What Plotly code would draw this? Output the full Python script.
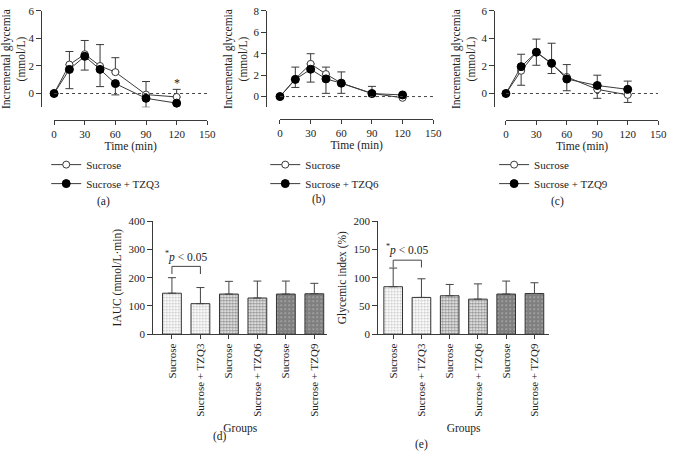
import plotly.graph_objects as go

# Time points (min)
time = [0, 15, 30, 45, 60, 90, 120]

# Panel (a): Sucrose vs Sucrose + TZQ3
a_suc = [0, 2.1, 2.85, 2.0, 1.55, -0.08, -0.25]
a_suc_err = [0, 0.95, 1.0, 1.55, 1.05, 0.95, 0.55]      # drawn upward
a_tzq = [0, 1.75, 2.7, 1.75, 0.72, -0.35, -0.7]
a_tzq_err = [0, 1.4, 1.0, 1.25, 0.82, 0.65, 0.6]        # drawn downward

# Panel (b): Sucrose vs Sucrose + TZQ6
b_suc = [0, 1.65, 3.05, 2.1, 1.25, 0.3, -0.12]
b_suc_err = [0, 1.1, 0.95, 0.65, 1.05, 0.65, 0.1]
b_tzq = [0, 1.6, 2.55, 1.65, 1.25, 0.28, 0.15]
b_tzq_err = [0, 0.75, 1.2, 1.35, 0.95, 0.23, 0.1]

# Panel (c): Sucrose vs Sucrose + TZQ9
c_suc = [0, 1.65, 3.0, 2.15, 1.2, 0.3, -0.1]
c_suc_err = [0, 1.05, 0.95, 0.7, 1.0, 0.65, 0.55]      # drawn downward
c_tzq = [0, 1.95, 3.0, 2.2, 1.05, 0.58, 0.3]
c_tzq_err = [0, 0.9, 0.95, 1.45, 1.05, 0.75, 0.6]      # drawn upward

# Panels (d) and (e): bar charts
groups = ["Sucrose", "Sucrose + TZQ3", "Sucrose", "Sucrose + TZQ6", "Sucrose", "Sucrose + TZQ9"]
iauc = [145, 108, 142, 128, 142, 143]
iauc_err = [55, 57, 45, 60, 46, 37]
gi = [84, 65, 68, 62, 71, 72]
gi_err = [33, 33, 20, 27, 23, 19]

W, H = 676, 457
def px(x):
    return x / W
def py(y):
    return 1 - y / H

FONT = "Liberation Serif, Times New Roman, serif"
AX = "#3a3a3a"
zeros = [0] * len(time)

fig = go.Figure()

def add_pair(suc, suc_err, suc_up, tzq, tzq_err, label, xa, ya, leg):
    up_s = suc_err if suc_up else zeros
    dn_s = zeros if suc_up else suc_err
    up_t = zeros if suc_up else tzq_err
    dn_t = tzq_err if suc_up else zeros
    fig.add_trace(go.Scatter(
        x=time, y=suc, name="Sucrose", mode="lines+markers",
        xaxis=xa, yaxis=ya, legend=leg, cliponaxis=False,
        line=dict(color=AX, width=1),
        marker=dict(symbol="circle", size=7, color="white", line=dict(color=AX, width=1)),
        error_y=dict(type="data", symmetric=False, array=up_s, arrayminus=dn_s,
                     color=AX, thickness=1, width=4)))
    fig.add_trace(go.Scatter(
        x=time, y=tzq, name=label, mode="lines+markers",
        xaxis=xa, yaxis=ya, legend=leg, cliponaxis=False,
        line=dict(color=AX, width=1),
        marker=dict(symbol="circle", size=8, color="black", line=dict(color="black", width=1)),
        error_y=dict(type="data", symmetric=False, array=up_t, arrayminus=dn_t,
                     color=AX, thickness=1, width=4)))

add_pair(a_suc, a_suc_err, True, a_tzq, a_tzq_err, "Sucrose + TZQ3", "x", "y", "legend")
add_pair(b_suc, b_suc_err, True, b_tzq, b_tzq_err, "Sucrose + TZQ6", "x2", "y2", "legend2")
add_pair(c_suc, c_suc_err, False, c_tzq, c_tzq_err, "Sucrose + TZQ9", "x3", "y3", "legend3")

bar_pattern = dict(shape=".",
                   fgcolor=["#888888", "#888888", "#222222", "#222222", "#000000", "#000000"],
                   bgcolor="white", size=[3, 3, 3, 3, 4, 4],
                   solidity=[0.4, 0.4, 0.6, 0.6, 0.85, 0.85])
xs = list(range(len(groups)))
for vals, errs, xa, ya in [(iauc, iauc_err, "x4", "y4"), (gi, gi_err, "x5", "y5")]:
    fig.add_trace(go.Bar(
        x=xs, y=vals, xaxis=xa, yaxis=ya, width=0.66, showlegend=False,
        marker=dict(color="white", line=dict(color="#333333", width=1), pattern=bar_pattern),
        error_y=dict(type="data", symmetric=False, array=errs, arrayminus=[0] * 6,
                     color="#444444", thickness=1, width=4)))

tickfont = dict(family=FONT, size=11, color="#222")
titlefont = dict(family=FONT, size=11.5, color="#222")

def line_axes(xdom, ypos_x, xline_y, yrange, yticks):
    xa = dict(domain=[px(xdom[0]), px(xdom[1])], range=[0, 150], anchor="free",
              position=py(xline_y), tickvals=[0, 30, 60, 90, 120, 150],
              showline=True, linecolor=AX, linewidth=1, ticks="outside", ticklen=4,
              tickcolor=AX, showgrid=False, zeroline=False, tickfont=tickfont,
              title=dict(text="Time (min)", font=titlefont, standoff=2))
    ya = dict(domain=[py(104), py(5)], range=yrange, anchor="free", position=px(ypos_x),
              tickvals=yticks, showline=True, linecolor=AX, linewidth=1, ticks="outside",
              ticklen=5, tickcolor=AX, showgrid=False, zeroline=False, tickfont=tickfont,
              title=dict(text="Incremental glycemia<br>(mmol/L)", font=titlefont, standoff=2))
    return xa, ya

xa1, ya1 = line_axes((52, 208), 39, 117, [-1, 6], [0, 2, 4, 6])
xa2, ya2 = line_axes((282, 438), 268, 116, [-1, 8], [0, 2, 4, 6, 8])
xa3, ya3 = line_axes((512, 667), 500, 117, [-1, 6], [0, 2, 4, 6])

def bar_axes(xdom, xrange, yrange, yticks, ytitle, n):
    xa = dict(domain=[px(xdom[0]), px(xdom[1])], range=xrange, anchor="y%d" % n,
              tickvals=xs, ticktext=groups, tickangle=-90, showline=True, linecolor=AX,
              linewidth=1, ticks="outside", ticklen=4, tickcolor=AX, showgrid=False,
              zeroline=False, tickfont=tickfont,
              title=dict(text="Groups", font=titlefont, standoff=8))
    ya = dict(domain=[py(337), py(221)], range=yrange, anchor="x%d" % n, tickvals=yticks,
              showline=True, linecolor=AX, linewidth=1, ticks="outside", ticklen=5,
              tickcolor=AX, showgrid=False, zeroline=False, tickfont=tickfont,
              title=dict(text=ytitle, font=titlefont, standoff=4))
    return xa, ya

xa4, ya4 = bar_axes((153, 330), [-0.655, 5.45], [0, 400], [0, 100, 200, 300, 400],
                    "IAUC (mmol/L·min)", 4)
xa5, ya5 = bar_axes((382, 556), [-0.53, 5.52], [0, 200], [0, 50, 100, 150, 200],
                    "Glycemic index (%)", 5)

legend_style = dict(font=dict(family=FONT, size=11, color="#222"), bgcolor="rgba(0,0,0,0)",
                    xanchor="left", yanchor="top", tracegroupgap=0)

fig.update_layout(
    width=W, height=H, margin=dict(l=0, r=0, t=0, b=0),
    paper_bgcolor="white", plot_bgcolor="white",
    font=dict(family=FONT, size=11, color="#222"),
    xaxis=xa1, yaxis=ya1, xaxis2=xa2, yaxis2=ya2, xaxis3=xa3, yaxis3=ya3,
    xaxis4=xa4, yaxis4=ya4, xaxis5=xa5, yaxis5=ya5,
    legend=dict(x=px(44), y=py(148), **legend_style),
    legend2=dict(x=px(267), y=py(148), **legend_style),
    legend3=dict(x=px(500), y=py(148), **legend_style),
)

# dotted zero lines
for n in ["", "2", "3"]:
    fig.add_shape(type="line", xref="x" + n, yref="y" + n, x0=0, x1=150, y0=0, y1=0,
                  line=dict(color="#444", width=1, dash="dot"))

# significance marks
fig.add_annotation(x=120, y=0.75, xref="x", yref="y", text="*", showarrow=False,
                   font=dict(family=FONT, size=12, color="#222"))
for n, ytop, ytick, ytxt in [("4", 240, 213, 275), ("5", 131, 118, 150)]:
    fig.add_shape(type="path", xref="x" + n, yref="y" + n,
                  path="M 0 %s L 0 %s L 1 %s L 1 %s" % (ytick, ytop, ytop, ytick),
                  line=dict(color="#444", width=1))
    fig.add_annotation(x=0.5, y=ytxt, xref="x" + n, yref="y" + n,
                       text="<sup>*</sup><i>p</i> < 0.05", showarrow=False,
                       font=dict(family=FONT, size=11.5, color="#222"))

# panel labels
for lab, x, y in [("(a)", 102, 201), ("(b)", 322, 199), ("(c)", 565, 201),
                  ("(d)", 221, 442), ("(e)", 426, 450)]:
    fig.add_annotation(x=px(x), y=py(y), xref="paper", yref="paper", text=lab,
                       xanchor="center", yanchor="middle", showarrow=False,
                       font=dict(family=FONT, size=11.5, color="#222"))

# page body has a default 8px margin and may get scrollbars; strip both
page_css = ("document.documentElement.style.overflow='hidden';"
            "document.body.style.margin='0';document.body.style.overflow='hidden';")
fig.write_html("out.html", config={"displayModeBar": False}, post_script=page_css)
